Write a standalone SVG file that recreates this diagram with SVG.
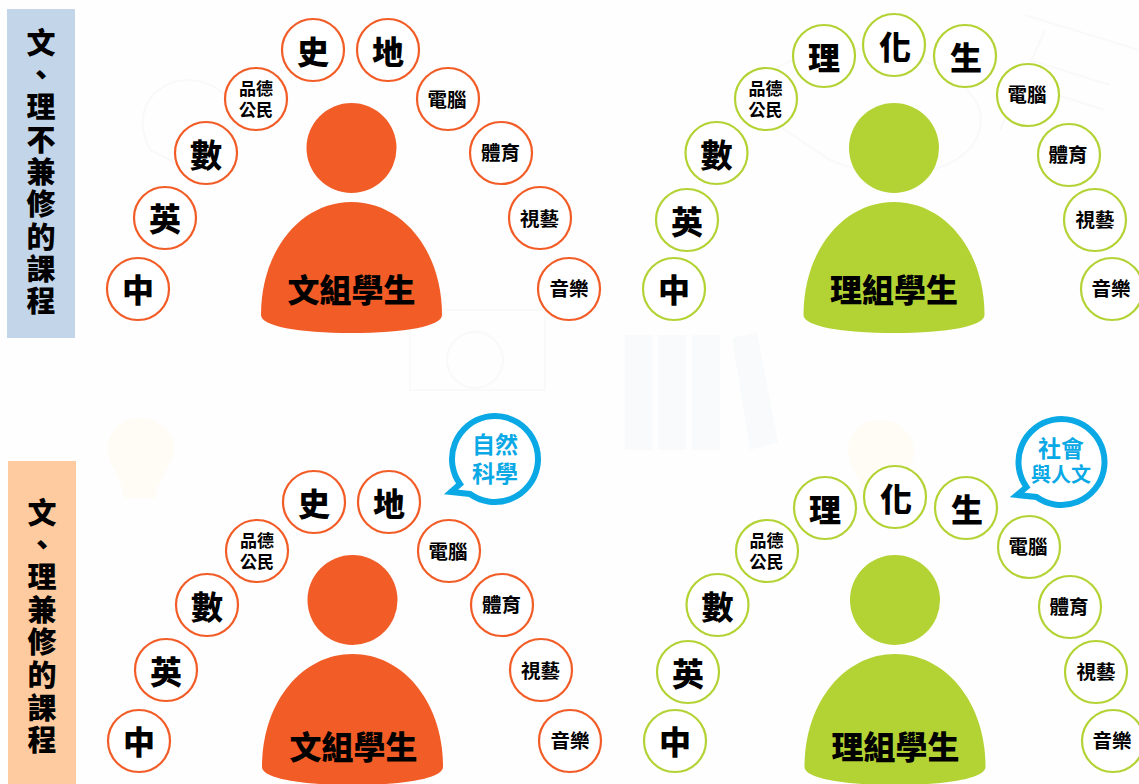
<svg xmlns="http://www.w3.org/2000/svg" width="1139" height="784" viewBox="0 0 1139 784">
<style>
text{font-family:"Noto Sans CJK TC","Noto Sans CJK SC",sans-serif;font-weight:900;fill:#000;text-anchor:middle;dominant-baseline:central}
.o{fill:#fff;stroke:#f25c26;stroke-width:2.2}
.g{fill:#fff;stroke:#b3d335;stroke-width:2.2}
.of{fill:#f25c26}
.gf{fill:#b3d335}
.b{font-size:32px}
.s{font-size:19.500px;font-weight:700}
.x{font-size:17px;font-weight:700}
.v{font-size:29px}
.c{fill:#0aa9e6;font-size:23px;font-weight:700}
.bub{fill:#fff;stroke:#0aa9e6;stroke-width:6;stroke-miterlimit:8}
.bg{fill:#f8fafb}
.by{fill:#fffcf6}
.bl{fill:none;stroke:#f9f9f9;stroke-width:2}
</style>
<defs>
<path id="body" d="M0,113C0,48 40,0 90.500,0C141,0 181,48 181,113C181,124 144,131 90.500,131C37,131 0,124 0,113Z"/>
</defs>
<rect width="1139" height="784" fill="#fefefe"/>
<g id="background">
<rect class="bg" x="625" y="335" width="28" height="115"/>
<rect class="bg" x="658" y="335" width="28" height="115"/>
<rect class="bg" x="692" y="335" width="28" height="115"/>
<path class="bg" d="M732,338L757,332L778,442L750,450Z"/>
<path class="by" d="M140,418C118,418 106,436 108,452C110,468 122,476 124,498L156,498C158,476 172,468 174,452C176,436 162,418 140,418Z"/>
<path class="by" d="M880,420C858,420 846,438 848,454C850,470 862,478 864,500L896,500C898,478 912,470 914,454C916,438 902,420 880,420Z"/>
<path class="bl" d="M410,310H545V390H410Z"/>
<circle class="bl" cx="475" cy="360" r="28"/>
<path class="bl" d="M1025,15L1139,50M1045,30L1000,130M1030,60L1110,85M1025,85L1105,110"/>
<path class="bl" d="M150,150C120,90 190,60 225,95C250,130 215,175 180,165Z"/>
<path class="bl" d="M740,100C800,20 950,40 980,110C990,170 900,190 830,160Z"/>
</g>

<g id="label-top"><rect x="7" y="9" width="68" height="329" fill="#c3d5e8"/>
<text class="v" x="41 41 41 41 41 41 41 41 41" y="41 73 105 138 170 202 235 267 299">文、理不兼修的課程</text></g>
<g id="label-bottom"><rect x="8" y="461" width="68" height="323" fill="#fdcb9f"/>
<text class="v" x="42 42 42 42 42 42 42 42" y="511 543 575 608 640 673 706 738">文、理兼修的課程</text></g>

<g id="tl-student"><circle class="of" cx="351.500" cy="148" r="45"/><use href="#body" class="of" x="261" y="202"/><text class="b" x="351.500" y="288">文組學生</text></g>
<g id="tl-zh"><circle class="o" cx="138" cy="289" r="31"/><text class="b" x="138" y="288">中</text></g>
<g id="tl-en"><circle class="o" cx="165" cy="218" r="31"/><text class="b" x="165" y="217">英</text></g>
<g id="tl-math"><circle class="o" cx="206" cy="153" r="31"/><text class="b" x="206" y="153">數</text></g>
<g id="tl-civics"><circle class="o" cx="256" cy="99" r="31"/><text class="x"><tspan x="256" y="87">品德</tspan><tspan x="256" y="108">公民</tspan></text></g>
<g id="tl-hist"><circle class="o" cx="313" cy="50" r="31"/><text class="b" x="313" y="50">史</text></g>
<g id="tl-geo"><circle class="o" cx="388" cy="50" r="31"/><text class="b" x="388" y="50">地</text></g>
<g id="tl-cs"><circle class="o" cx="448" cy="99" r="31"/><text class="s" x="447" y="98">電腦</text></g>
<g id="tl-pe"><circle class="o" cx="501" cy="153" r="31"/><text class="s" x="500.500" y="151">體育</text></g>
<g id="tl-art"><circle class="o" cx="540" cy="218" r="31"/><text class="s" x="539.500" y="217">視藝</text></g>
<g id="tl-music"><circle class="o" cx="569" cy="289" r="31"/><text class="s" x="569" y="287">音樂</text></g>

<g id="tr-student"><circle class="gf" cx="894" cy="148" r="45"/><use href="#body" class="gf" x="803.500" y="202"/><text class="b" x="894" y="288">理組學生</text></g>
<g id="tr-zh"><circle class="g" cx="674" cy="289" r="31"/><text class="b" x="674" y="288">中</text></g>
<g id="tr-en"><circle class="g" cx="687" cy="220" r="31"/><text class="b" x="687" y="220">英</text></g>
<g id="tr-math"><circle class="g" cx="716.500" cy="153" r="31"/><text class="b" x="716.500" y="153">數</text></g>
<g id="tr-civics"><circle class="g" cx="766" cy="99" r="31"/><text class="x"><tspan x="765.500" y="87">品德</tspan><tspan x="765.500" y="108">公民</tspan></text></g>
<g id="tr-phy"><circle class="g" cx="824" cy="56" r="31"/><text class="b" x="824" y="56">理</text></g>
<g id="tr-chem"><circle class="g" cx="894" cy="45" r="31"/><text class="b" x="895" y="45">化</text></g>
<g id="tr-bio"><circle class="g" cx="965" cy="56" r="31"/><text class="b" x="966" y="56">生</text></g>
<g id="tr-cs"><circle class="g" cx="1028" cy="95" r="31"/><text class="s" x="1027" y="93">電腦</text></g>
<g id="tr-pe"><circle class="g" cx="1069" cy="155" r="31"/><text class="s" x="1068" y="153">體育</text></g>
<g id="tr-art"><circle class="g" cx="1095" cy="220" r="31"/><text class="s" x="1095" y="218">視藝</text></g>
<g id="tr-music"><circle class="g" cx="1112" cy="289" r="31"/><text class="s" x="1111" y="287">音樂</text></g>

<g id="bl-student"><circle class="of" cx="352.500" cy="600" r="45"/><use href="#body" class="of" x="262" y="654"/><text class="b" x="353.500" y="745">文組學生</text></g>
<g id="bl-zh"><circle class="o" cx="139" cy="741" r="31"/><text class="b" x="139" y="740">中</text></g>
<g id="bl-en"><circle class="o" cx="166" cy="670" r="31"/><text class="b" x="166" y="670">英</text></g>
<g id="bl-math"><circle class="o" cx="207" cy="605" r="31"/><text class="b" x="207" y="605">數</text></g>
<g id="bl-civics"><circle class="o" cx="257" cy="551" r="31"/><text class="x"><tspan x="257" y="539">品德</tspan><tspan x="257" y="560">公民</tspan></text></g>
<g id="bl-hist"><circle class="o" cx="314" cy="502" r="31"/><text class="b" x="314" y="502">史</text></g>
<g id="bl-geo"><circle class="o" cx="389" cy="502" r="31"/><text class="b" x="389" y="502">地</text></g>
<g id="bl-cs"><circle class="o" cx="449" cy="551" r="31"/><text class="s" x="448" y="550">電腦</text></g>
<g id="bl-pe"><circle class="o" cx="502" cy="605" r="31"/><text class="s" x="501.500" y="603">體育</text></g>
<g id="bl-art"><circle class="o" cx="541" cy="670" r="31"/><text class="s" x="540.500" y="669">視藝</text></g>
<g id="bl-music"><circle class="o" cx="570" cy="741" r="31"/><text class="s" x="570" y="739">音樂</text></g>
<g id="bl-bubble"><path class="bub" d="M460,484A43,43 0 1 1 470,494L451,492Z"/><text class="c"><tspan x="495" y="443">自然</tspan><tspan x="495" y="472">科學</tspan></text></g>

<g id="br-student"><circle class="gf" cx="895" cy="600" r="45"/><use href="#body" class="gf" x="804.500" y="654"/><text class="b" x="895.500" y="745">理組學生</text></g>
<g id="br-zh"><circle class="g" cx="675" cy="741" r="31"/><text class="b" x="675" y="740">中</text></g>
<g id="br-en"><circle class="g" cx="688" cy="672" r="31"/><text class="b" x="688" y="672">英</text></g>
<g id="br-math"><circle class="g" cx="717.500" cy="605" r="31"/><text class="b" x="717.500" y="605">數</text></g>
<g id="br-civics"><circle class="g" cx="767" cy="551" r="31"/><text class="x"><tspan x="766.500" y="539">品德</tspan><tspan x="766.500" y="560">公民</tspan></text></g>
<g id="br-phy"><circle class="g" cx="825" cy="508" r="31"/><text class="b" x="825" y="508">理</text></g>
<g id="br-chem"><circle class="g" cx="895" cy="497" r="31"/><text class="b" x="896" y="497">化</text></g>
<g id="br-bio"><circle class="g" cx="966" cy="508" r="31"/><text class="b" x="967" y="508">生</text></g>
<g id="br-cs"><circle class="g" cx="1029" cy="547" r="31"/><text class="s" x="1028" y="545">電腦</text></g>
<g id="br-pe"><circle class="g" cx="1070" cy="607" r="31"/><text class="s" x="1069" y="605">體育</text></g>
<g id="br-art"><circle class="g" cx="1096" cy="672" r="31"/><text class="s" x="1096" y="670">視藝</text></g>
<g id="br-music"><circle class="g" cx="1113" cy="741" r="31"/><text class="s" x="1112" y="739">音樂</text></g>
<g id="br-bubble"><path class="bub" d="M1026.500,487A43,43 0 1 1 1036.500,497L1017,495Z"/><text class="c"><tspan x="1061" y="447">社會</tspan><tspan x="1061" y="473" style="font-size:20px">與人文</tspan></text></g>
</svg>
